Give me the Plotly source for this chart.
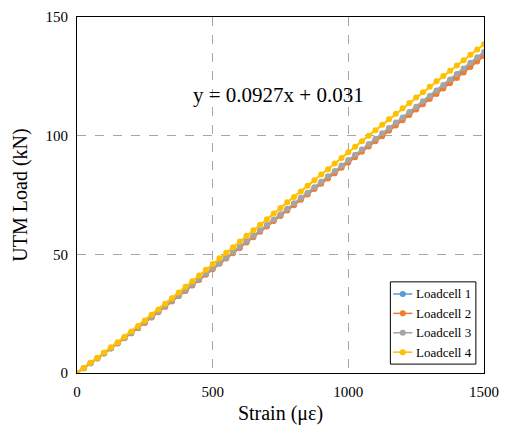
import plotly.graph_objects as go

strain = [0, 25, 50, 75, 100, 125, 150, 175, 200, 225, 250, 275, 300, 325, 350, 375,
          400, 425, 450, 475, 500, 525, 550, 575, 600, 625, 650, 675, 700, 725, 750, 775,
          800, 825, 850, 875, 900, 925, 950, 975, 1000, 1025, 1050, 1075, 1100, 1125, 1150, 1175,
          1200, 1225, 1250, 1275, 1300, 1325, 1350, 1375, 1400, 1425, 1450, 1475, 1500]

load_lc1 = [0, 2.0, 4.1, 6.2, 8.3, 10.4, 12.5, 14.7, 16.8, 19.0, 21.3, 23.5, 25.8, 28.0, 30.3, 32.5,
            34.8, 37.1, 39.4, 41.7, 44.0, 46.2, 48.5, 50.7, 53.0, 55.3, 57.5, 59.8, 62.1, 64.3, 66.6, 68.8,
            71.1, 73.4, 75.6, 77.9, 80.2, 82.4, 84.7, 86.9, 89.2, 91.5, 93.7, 96.0, 98.2, 100.4, 102.7, 104.9,
            107.1, 109.4, 111.6, 113.9, 116.1, 118.4, 120.6, 122.9, 125.2, 127.5, 129.8, 132.1, 134.4]

load_lc2 = [0, 2.0, 4.1, 6.1, 8.2, 10.3, 12.4, 14.6, 16.7, 18.9, 21.1, 23.4, 25.6, 27.9, 30.1, 32.4,
            34.6, 36.9, 39.2, 41.4, 43.7, 46.0, 48.2, 50.5, 52.7, 55.0, 57.2, 59.5, 61.7, 64.0, 66.2, 68.5,
            70.7, 73.0, 75.2, 77.5, 79.7, 82.0, 84.2, 86.5, 88.7, 90.9, 93.2, 95.4, 97.6, 99.8, 102.1, 104.3,
            106.5, 108.7, 111.0, 113.2, 115.4, 117.6, 119.9, 122.1, 124.3, 126.6, 128.9, 131.3, 133.6]

load_lc3 = [0, 2.0, 4.1, 6.2, 8.3, 10.4, 12.6, 14.7, 16.9, 19.1, 21.4, 23.6, 25.9, 28.2, 30.5, 32.7,
            35.0, 37.3, 39.6, 41.9, 44.2, 46.5, 48.7, 51.0, 53.3, 55.6, 57.8, 60.1, 62.4, 64.7, 66.9, 69.2,
            71.5, 73.8, 76.0, 78.3, 80.6, 82.9, 85.1, 87.4, 89.7, 92.0, 94.2, 96.5, 98.7, 101.0, 103.2, 105.5,
            107.7, 110.0, 112.2, 114.5, 116.7, 119.0, 121.4, 123.7, 126.0, 128.3, 130.7, 133.0, 135.3]

load_lc4 = [0, 2.1, 4.3, 6.4, 8.6, 10.8, 13.0, 15.3, 17.5, 19.8, 22.1, 24.5, 26.8, 29.2, 31.5, 33.9,
            36.3, 38.7, 41.1, 43.5, 45.9, 48.3, 50.7, 53.0, 55.4, 57.8, 60.1, 62.5, 64.8, 67.2, 69.5, 71.9,
            74.2, 76.5, 78.9, 81.2, 83.6, 85.9, 88.3, 90.6, 93.0, 95.3, 97.7, 100.0, 102.3, 104.6, 106.9, 109.2,
            111.5, 113.8, 116.1, 118.3, 120.6, 122.9, 125.1, 127.4, 129.6, 131.8, 134.1, 136.3, 138.5]

series_names = ["Loadcell 1", "Loadcell 2", "Loadcell 3", "Loadcell 4"]
series_colors = ["#5B9BD5", "#ED7D31", "#A5A5A5", "#FFC000"]
series_loads = [load_lc1, load_lc2, load_lc3, load_lc4]

x_ticks = [0, 500, 1000, 1500]
y_ticks = [0, 50, 100, 150]
equation = "y = 0.0927x + 0.031"

FONT = "Liberation Serif"

fig = go.Figure()
for name, color, loads in zip(series_names, series_colors, series_loads):
    fig.add_trace(go.Scatter(
        x=strain, y=loads, name=name, mode="lines+markers",
        line=dict(color=color, width=2),
        marker=dict(color=color, size=6),
        showlegend=False,
    ))

fig.add_annotation(
    x=743, y=117, xref="x", yref="y", text=equation, showarrow=False,
    font=dict(family=FONT, size=21, color="black"),
)

# Excel-style legend box (short line + dot symbols)
leg_x0, leg_x1, leg_y0, leg_y1 = 0.770, 0.980, 0.025, 0.256
row_top, row_step = 0.222, 0.0545
sym_x0, sym_x1, sym_xc, txt_x = 0.777, 0.824, 0.8005, 0.829
rx, ry = 0.0075, 0.0085
fig.add_shape(type="rect", xref="paper", yref="paper",
              x0=leg_x0, x1=leg_x1, y0=leg_y0, y1=leg_y1,
              line=dict(color="black", width=1), fillcolor="white", layer="above")
for i, (name, color) in enumerate(zip(series_names, series_colors)):
    yc = row_top - i * row_step
    fig.add_shape(type="line", xref="paper", yref="paper",
                  x0=sym_x0, x1=sym_x1, y0=yc, y1=yc,
                  line=dict(color=color, width=1.5), layer="above")
    fig.add_shape(type="circle", xref="paper", yref="paper",
                  x0=sym_xc - rx, x1=sym_xc + rx, y0=yc - ry, y1=yc + ry,
                  line=dict(color=color, width=0), fillcolor=color, layer="above")
    fig.add_annotation(x=txt_x, y=yc, xref="paper", yref="paper", text=name,
                       showarrow=False, xanchor="left", yanchor="middle",
                       font=dict(family=FONT, size=13, color="black"))

axis_common = dict(
    showgrid=True, gridcolor="#A6A6A6", griddash="dash", gridwidth=1,
    showline=True, linecolor="black", linewidth=1, mirror=True,
    zeroline=False, ticks="outside", ticklen=5, tickcolor="rgba(0,0,0,0)",
    tickfont=dict(family=FONT, size=15, color="black"),
)

fig.update_xaxes(
    range=[0, 1500], tickvals=x_ticks,
    title=dict(text="Strain (με)", font=dict(family=FONT, size=20, color="black"), standoff=6),
    **axis_common,
)
fig.update_yaxes(
    range=[0, 150], tickvals=y_ticks,
    title=dict(text="UTM Load (kN)", font=dict(family=FONT, size=20, color="black"), standoff=12),
    **axis_common,
)

fig.update_layout(
    width=508, height=431,
    margin=dict(l=77, r=17, t=9, b=58),
    paper_bgcolor="white", plot_bgcolor="white",
    font=dict(family=FONT, color="black"),
    showlegend=False,
)

fig.write_html("out.html")
